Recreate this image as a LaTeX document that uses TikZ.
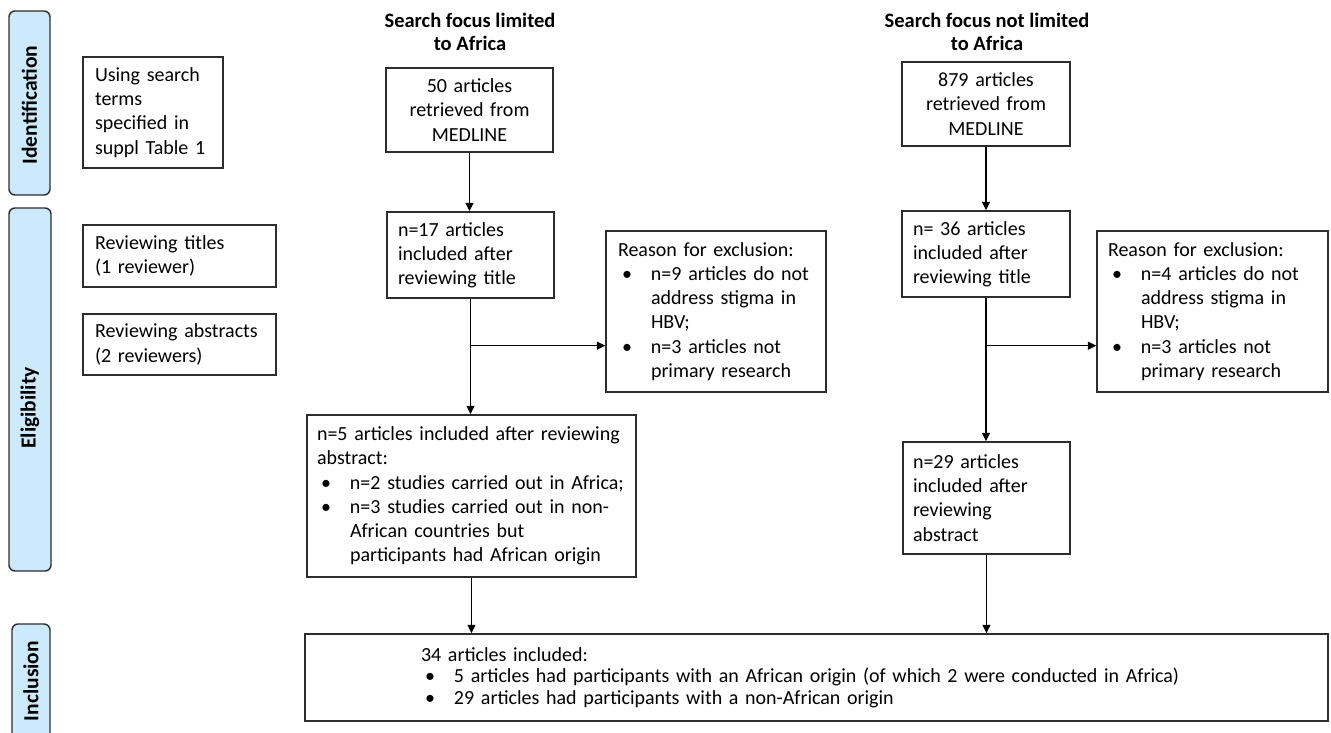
\documentclass[tikz,border=0pt]{standalone}
\usepackage{fontspec}
\setmainfont{Carlito}
\usetikzlibrary{arrows.meta,calc}
\definecolor{barfill}{RGB}{204,234,252}
\definecolor{edgegray}{RGB}{45,45,45}
\newcommand{\bulline}[1]{\mbox{\makebox[33pt][l]{\hspace{4pt}\textbullet}#1}}
\newcommand{\contline}[1]{\mbox{\hspace*{33pt}#1}}
\begin{document}
\hyphenpenalty=10000
\exhyphenpenalty=10000
\begin{tikzpicture}[x=1pt,y=-1pt,
  every node/.style={font=\fontsize{20}{24.2}\selectfont},
  box/.style={draw=edgegray, line width=1.4pt, inner ysep=0pt, align=left, anchor=center},
  bar/.style={draw=edgegray, fill=barfill, line width=1.4pt, rounded corners=6pt, inner sep=0pt},
  barlabel/.style={font=\fontsize{21.5}{24}\selectfont\bfseries, rotate=90, inner sep=0pt},
  arr/.style={draw=black, line width=1.4pt, -{Triangle[length=8.5pt,width=8pt]}},
  hdr/.style={font=\fontsize{20.5}{23}\selectfont\bfseries, align=center, inner sep=0pt}
]
\useasboundingbox (0,0) rectangle (1331,733);

% side bars
\node[bar, minimum width=41pt, minimum height=184pt] (bid) at (29.5,103) {};
\node[barlabel] (tid) at (29.5,105) {Identification};
\node[bar, minimum width=42pt, minimum height=363pt] (bel) at (30,389.5) {};
\node[barlabel] (tel) at (30,408) {Eligibility};
\node[bar, minimum width=38pt, minimum height=124pt] (bin) at (31,686) {};
\node[barlabel] (tin) at (31,681) {Inclusion};

% left description boxes
\node[box, minimum width=140pt, minimum height=111pt, text width=116pt, inner xsep=12pt] (L1) at (153,112.5)
  {Using search\\terms\\specified in\\suppl Table 1};
\node[box, minimum width=193pt, minimum height=62pt, text width=169pt, inner xsep=12pt] (L2) at (179.5,256)
  {Reviewing titles\\(1 reviewer)};
\node[box, minimum width=193pt, minimum height=61pt, text width=169pt, inner xsep=12pt] (L3) at (179.5,344.5)
  {\mbox{Reviewing abstracts}\\(2 reviewers)};

% headers
\node[hdr] (HL) at (470,31.5) {Search focus limited\\to Africa};
\node[hdr] (HR) at (987,31.5) {Search focus not limited\\to Africa};

% left column
\node[box, align=center, minimum width=167pt, minimum height=84pt, text width=145pt, inner xsep=11pt] (A1) at (469.5,110)
  {50 articles\\retrieved from\\MEDLINE};
\node[box, minimum width=167pt, minimum height=86pt, text width=145pt, inner xsep=11pt] (A2) at (470.5,255)
  {n=17 articles\\included after\\reviewing title};
\node[box, minimum width=220pt, minimum height=161pt, text width=196pt, inner xsep=12pt] (A3) at (716,311.5)
  {Reason for exclusion:\\
   \bulline{n=9 articles do not}\\
   \contline{address stigma in}\\
   \contline{HBV;}\\
   \bulline{n=3 articles not}\\
   \contline{primary research}};
\node[box, minimum width=329pt, minimum height=162pt, text width=309pt, inner xsep=10pt] (A4) at (471.5,496)
  {\mbox{n=5 articles included after reviewing}\\
   abstract:\\
   \bulline{n=2 studies carried out in Africa;}\\
   \bulline{n=3 studies carried out in non-}\\
   \contline{African countries but}\\
   \contline{participants had African origin}};

% right column
\node[box, align=center, minimum width=168pt, minimum height=84pt, text width=146pt, inner xsep=11pt] (B1) at (986,104)
  {879 articles\\retrieved from\\MEDLINE};
\node[box, minimum width=168pt, minimum height=86pt, text width=146pt, inner xsep=11pt] (B2) at (986,254)
  {n= 36 articles\\included after\\reviewing title};
\node[box, minimum width=231pt, minimum height=161pt, text width=209pt, inner xsep=11pt] (B3) at (1212.5,311.5)
  {Reason for exclusion:\\
   \bulline{n=4 articles do not}\\
   \contline{address stigma in}\\
   \contline{HBV;}\\
   \bulline{n=3 articles not}\\
   \contline{primary research}};
\node[box, minimum width=167pt, minimum height=112pt, text width=147pt, inner xsep=10pt] (B4) at (986.5,498)
  {n=29 articles\\included after\\reviewing\\abstract};

% inclusion box
\node[box, font=\fontsize{20}{21.5}\selectfont, minimum width=1023pt, minimum height=87pt, text width=791pt, inner xsep=116pt] (Inc) at (816.5,677.5)
  {34 articles included:\\
   \bulline{5 articles had participants with an African origin (of which 2 were conducted in Africa)}\\
   \bulline{29 articles had participants with a non-African origin}};

% connectors left
\draw[arr] (A1.south) -- (A1.south |- A2.north);
\path (A2.south) ++(0,47) coordinate (ja);
\draw[arr] (A2.south) -- (A2.south |- A4.north);
\draw[arr] (ja) -- (ja -| A3.west);
\draw[arr] (A4.south) -- (A4.south |- Inc.north);

% connectors right
\draw[arr] (B1.south) -- (B1.south |- B2.north);
\path (B2.south) ++(0,48) coordinate (jb);
\draw[arr] (B2.south) -- (B2.south |- B4.north);
\draw[arr] (jb) -- (jb -| B3.west);
\draw[arr] (B4.south) -- (B4.south |- Inc.north);
\end{tikzpicture}
\end{document}
